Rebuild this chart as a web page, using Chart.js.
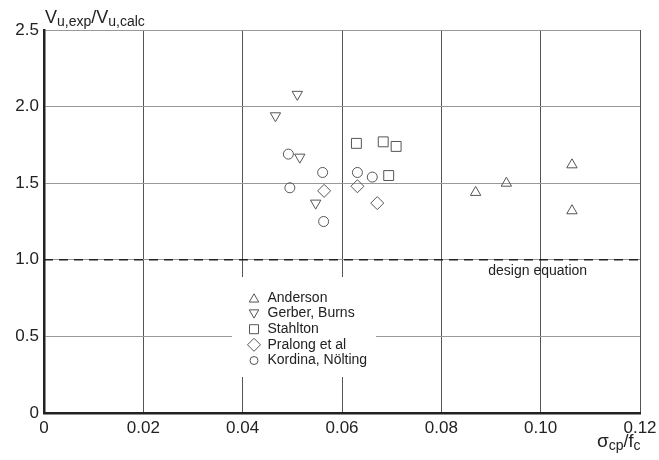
<!DOCTYPE html>
<html><head><meta charset="utf-8">
<script src="https://cdn.jsdelivr.net/npm/chart.js@4/dist/chart.umd.min.js"></script>
<style>html,body{margin:0;padding:0;background:#fff}#wrap{width:659px;height:460px}</style>
</head><body><div id="wrap"><canvas id="c" width="659" height="460"></canvas></div>
<script>
const xTickValues = [0, 0.02, 0.04, 0.06, 0.08, 0.10, 0.12];
const xTickLabels = ['0', '0.02', '0.04', '0.06', '0.08', '0.10', '0.12'];
const yTickValues = [0, 0.5, 1.0, 1.5, 2.0, 2.5];
const yTickLabels = ['0', '0.5', '1.0', '1.5', '2.0', '2.5'];

const seriesNames = ['Anderson', 'Gerber, Burns', 'Stahlton', 'Pralong et al', 'Kordina, Nölting'];
const andersonX = [0.0869, 0.0931, 0.1063, 0.1063];
const andersonY = [1.44, 1.50, 1.62, 1.32];
const gerberX = [0.0466, 0.0510, 0.0515, 0.0547];
const gerberY = [1.94, 2.08, 1.67, 1.37];
const stahltonX = [0.0629, 0.0683, 0.0709, 0.0694];
const stahltonY = [1.76, 1.77, 1.74, 1.55];
const pralongX = [0.0564, 0.0631, 0.0671];
const pralongY = [1.45, 1.48, 1.37];
const kordinaX = [0.0492, 0.0495, 0.0561, 0.0563, 0.0631, 0.0661];
const kordinaY = [1.69, 1.47, 1.57, 1.25, 1.57, 1.54];

const designX = [0, 0.12];
const designY = [1.0, 1.0];
const designLabel = 'design equation';

const FONT = '"Liberation Sans", Arial, sans-serif';
const MARK = '#555';

function pts(xs, ys) { return xs.map((x, i) => ({ x: x, y: ys[i] })); }

function markerDataset(label, xs, ys, style, radius, rotation) {
  return {
    type: 'scatter', label: label, data: pts(xs, ys),
    pointStyle: style, pointRadius: radius, pointHoverRadius: radius,
    pointRotation: rotation || 0,
    pointBorderColor: MARK, pointBackgroundColor: 'rgba(0,0,0,0)',
    pointBorderWidth: 1, showLine: false
  };
}

function drawMarker(ctx, style, x, y, r) {
  ctx.beginPath();
  if (style === 'tri') {
    ctx.moveTo(x, y - r); ctx.lineTo(x + r * 0.866, y + r * 0.5); ctx.lineTo(x - r * 0.866, y + r * 0.5); ctx.closePath();
  } else if (style === 'triDown') {
    ctx.moveTo(x, y + r); ctx.lineTo(x + r * 0.866, y - r * 0.5); ctx.lineTo(x - r * 0.866, y - r * 0.5); ctx.closePath();
  } else if (style === 'rect') {
    ctx.rect(x - r, y - r, 2 * r, 2 * r);
  } else if (style === 'diamond') {
    ctx.moveTo(x, y - r); ctx.lineTo(x + r, y); ctx.lineTo(x, y + r); ctx.lineTo(x - r, y); ctx.closePath();
  } else {
    ctx.arc(x, y, r, 0, Math.PI * 2);
  }
  ctx.stroke();
}

const legendStyles = [['tri', 5.5, 1], ['triDown', 5.5, -1], ['rect', 4.5, 0], ['diamond', 6.5, 0], ['circle', 4, 0]];

const decor = {
  id: 'decor',
  beforeDatasetsDraw(chart) {
    const ctx = chart.ctx;
    ctx.save();
    ctx.fillStyle = '#fff';
    ctx.fillRect(232, 277, 144, 100);
    ctx.restore();
  },
  afterDraw(chart) {
    const ctx = chart.ctx;
    const xs = chart.scales.x, ys = chart.scales.y;
    ctx.save();
    ctx.font = '14px ' + FONT;
    ctx.fillStyle = '#222';
    ctx.textBaseline = 'middle';
    ctx.textAlign = 'left';
    ctx.strokeStyle = MARK;
    ctx.lineWidth = 1;
    const rowY = [298.3, 313.6, 329.2, 344.8, 360.5];
    seriesNames.forEach((name, i) => {
      const s = legendStyles[i];
      drawMarker(ctx, s[0], 254, rowY[i] + s[2], s[1]);
      ctx.fillText(name, 267.5, rowY[i]);
    });
    ctx.textAlign = 'center';
    ctx.fillText(designLabel, xs.getPixelForValue(0.0994), ys.getPixelForValue(1.0) + 11.5);

    ctx.textAlign = 'left';
    ctx.textBaseline = 'alphabetic';
    let x = 45; const base = 23;
    const parts = [['V', 18, 0], ['u,exp', 14, 3], ['/', 18, 0], ['V', 18, 0], ['u,calc', 14, 3]];
    parts.forEach(p => {
      ctx.font = p[1] + 'px ' + FONT;
      ctx.fillText(p[0], x, base + p[2]);
      x += ctx.measureText(p[0]).width;
    });
    x = 597; const base2 = 447;
    const parts2 = [['σ', 19, 0], ['cp', 14, 3], ['/f', 18, 0], ['c', 14, 3]];
    parts2.forEach(p => {
      ctx.font = p[1] + 'px ' + FONT;
      ctx.fillText(p[0], x, base2 + p[2]);
      x += ctx.measureText(p[0]).width;
    });
    ctx.restore();
  }
};

new Chart(document.getElementById('c'), {
  data: {
    datasets: [
      markerDataset(seriesNames[0], andersonX, andersonY, 'triangle', 6, 0),
      markerDataset(seriesNames[1], gerberX, gerberY, 'triangle', 6, 180),
      markerDataset(seriesNames[2], stahltonX, stahltonY, 'rect', 7, 0),
      markerDataset(seriesNames[3], pralongX, pralongY, 'rectRot', 6.5, 0),
      markerDataset(seriesNames[4], kordinaX, kordinaY, 'circle', 5, 0),
      {
        type: 'line', label: designLabel, data: pts(designX, designY),
        borderColor: '#222', borderWidth: 1.6, borderDash: [9, 6],
        pointRadius: 0, fill: false
      }
    ]
  },
  options: {
    responsive: false, animation: false, devicePixelRatio: 1,
    layout: { padding: { top: 30, right: 19, left: 0, bottom: 0 } },
    plugins: { legend: { display: false }, tooltip: { enabled: false } },
    scales: {
      x: {
        type: 'linear', min: 0, max: 0.12,
        afterBuildTicks: s => { s.ticks = xTickValues.map(v => ({ value: v })); },
        afterFit: s => { s.height = 47; s.paddingRight = 0; s.paddingLeft = 0; },
        ticks: {
          callback: (v, i) => xTickLabels[i],
          font: { family: FONT, size: 17 }, color: '#222', padding: 5, maxRotation: 0
        },
        grid: { color: '#555', lineWidth: 1, drawTicks: false },
        border: { color: '#222', width: 2.5 }
      },
      y: {
        type: 'linear', min: 0, max: 2.5,
        afterBuildTicks: s => { s.ticks = yTickValues.map(v => ({ value: v })); },
        afterFit: s => { s.width = 44; s.paddingTop = 0; s.paddingBottom = 0; },
        ticks: {
          callback: (v, i) => yTickLabels[i],
          font: { family: FONT, size: 17 }, color: '#222', padding: 5
        },
        grid: { color: '#999', lineWidth: 1, drawTicks: false },
        border: { color: '#222', width: 2.5 }
      }
    }
  },
  plugins: [decor]
});
</script>
</body></html>
